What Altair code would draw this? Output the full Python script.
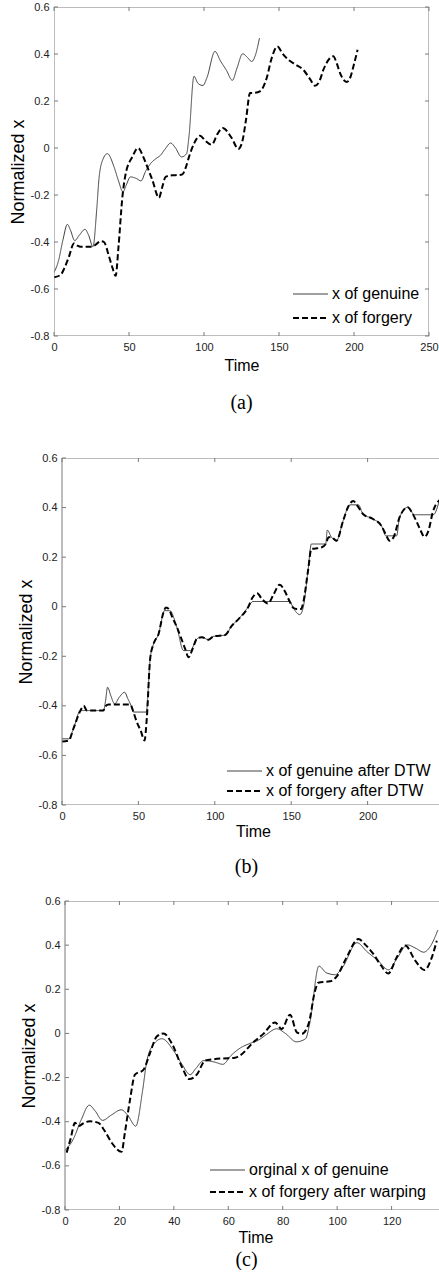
import altair as alt
import pandas as pd

FONT = "Liberation Sans"
SERIF = "Liberation Serif"

# ---------------- data ----------------
# (a) original x of genuine signature
gen_t = [0, 3, 6, 8.9, 11, 13.8, 17, 20.7, 23, 26, 28.5, 30, 32.5, 35.6, 40, 43, 46, 48, 51, 55, 58,
         61, 64.4, 68, 71, 74, 77.8, 81, 85, 88.4, 90, 93.3, 96, 99.3, 102, 107.3, 111, 115, 118.9,
         122, 125.8, 129, 131.8, 134, 137]
gen_v = [-0.53, -0.48, -0.39, -0.325, -0.35, -0.394, -0.37, -0.346, -0.37, -0.42, -0.26, -0.13, -0.05,
         -0.024, -0.08, -0.14, -0.187, -0.16, -0.123, -0.13, -0.14, -0.10, -0.066, -0.045, -0.031,
         -0.005, 0.021, 0.0, -0.038, -0.024, 0.05, 0.305, 0.275, 0.266, 0.30, 0.411, 0.37, 0.33, 0.288,
         0.34, 0.401, 0.385, 0.368, 0.39, 0.468]

# (a) original x of forgery
forg_t = [0, 4.4, 7, 10, 13.3, 15.5, 17.8, 21, 25.6, 28, 31.1, 33.3, 36.7, 39, 41.1, 43, 45.6, 47.8,
          52.2, 56, 60, 62.8, 65.6, 70, 72, 74.4, 78.9, 83, 85.6, 88, 90, 93.3, 97.3, 101, 105.1, 109,
          112.4, 118.4, 122.9, 125.8, 128, 130.7, 134, 137.3, 141.8, 145, 149, 152, 156.2, 161, 166.2,
          170.7, 174, 177, 179.6, 183, 186.2, 188.5, 190.7, 195.1, 197.5, 199.6, 202.4]
forg_v = [-0.55, -0.54, -0.51, -0.462, -0.406, -0.415, -0.42, -0.42, -0.42, -0.41, -0.396, -0.40, -0.462,
          -0.51, -0.544, -0.42, -0.208, -0.109, -0.038, 0.0, -0.045, -0.09, -0.137, -0.212, -0.17,
          -0.123, -0.116, -0.115, -0.112, -0.08, -0.038, 0.018, 0.052, 0.03, 0.014, 0.06, 0.085, 0.043,
          -0.004, 0.035, 0.12, 0.234, 0.235, 0.241, 0.298, 0.38, 0.432, 0.405, 0.376, 0.355, 0.333,
          0.293, 0.265, 0.285, 0.333, 0.375, 0.39, 0.36, 0.319, 0.281, 0.30, 0.347, 0.418]

# (b) genuine after DTW
dtw_gen_t = [0, 4.4, 7.6, 12, 27.2, 28.5, 29.8, 32, 34.4, 37.5, 41, 43, 45.3, 46.8, 55.1, 57.7, 59.9,
             63.2, 66.4, 66.8, 70.5, 75.2, 79.5, 84, 88.2, 91.5, 95.9, 99.1, 106.8, 111.1, 115.5, 121.8,
             125, 149, 151, 153, 155.6, 157.9, 161, 163.2, 172.6, 173.6, 176.4, 179.6, 184, 187.3, 188.5,
             194, 197, 203.5, 209, 212, 219, 220.9, 226.3, 230.7, 243, 247]
dtw_gen_v = [-0.533, -0.533, -0.49, -0.419, -0.419, -0.38, -0.325, -0.36, -0.392, -0.365, -0.345, -0.37,
             -0.40, -0.425, -0.425, -0.21, -0.15, -0.11, -0.023, -0.016, -0.016, -0.083, -0.177, -0.177,
             -0.13, -0.123, -0.133, -0.12, -0.114, -0.077, -0.05, -0.002, 0.021, 0.021, 0.0, -0.02,
             -0.032, -0.002, 0.145, 0.253, 0.253, 0.309, 0.28, 0.266, 0.347, 0.403, 0.411, 0.411, 0.374,
             0.354, 0.327, 0.286, 0.286, 0.36, 0.401, 0.371, 0.371, 0.43]

# (b) forgery after DTW
dtw_forg_t = [0, 4.4, 7.6, 12, 14.2, 16.3, 27.2, 28, 30.5, 44.7, 47, 49, 51.5, 54, 55.5, 57.7, 59.9,
              63.2, 66.4, 68, 70, 72, 75.2, 80.6, 82.8, 85.5, 88.2, 91.5, 95.9, 99.1, 106.8, 111.1,
              115.5, 121.8, 124.5, 127.7, 131, 134.8, 138.5, 142.5, 146, 149, 151.5, 153.4, 156.5, 158,
              161, 163.2, 166, 170, 172.6, 174.5, 176.4, 179.6, 184, 187.3, 190.6, 193, 197, 203.5, 209,
              212, 214.4, 217, 220.9, 226.3, 229, 231.8, 234.5, 237.2, 240, 242.6, 247]
dtw_forg_v = [-0.544, -0.54, -0.49, -0.42, -0.40, -0.419, -0.419, -0.405, -0.395, -0.395, -0.43, -0.466,
              -0.50, -0.54, -0.45, -0.21, -0.15, -0.11, -0.023, -0.003, -0.01, -0.04, -0.083, -0.17,
              -0.204, -0.17, -0.13, -0.123, -0.133, -0.12, -0.114, -0.077, -0.05, -0.002, 0.035, 0.054,
              0.03, 0.013, 0.05, 0.089, 0.06, 0.021, -0.005, -0.009, -0.009, 0.02, 0.145, 0.233, 0.235,
              0.24, 0.253, 0.28, 0.28, 0.266, 0.347, 0.403, 0.427, 0.41, 0.374, 0.354, 0.327, 0.29,
              0.266, 0.28, 0.36, 0.401, 0.38, 0.347, 0.31, 0.282, 0.31, 0.38, 0.43]

# (c) forgery after warping onto the genuine time axis
warp_t = [0.6, 2, 3.7, 4.9, 7, 9.2, 12.3, 14.5, 17.2, 20.8, 22, 23.9, 25.7, 28.8, 31.2, 33.7, 36.2,
          39.2, 42.9, 45.6, 48.4, 51.5, 54.5, 60, 62.5, 64.3, 69.2, 72.9, 77.2, 79.6, 82.7, 85.2, 87,
          89.5, 91.9, 93.1, 97.4, 99.8, 103.5, 107.8, 110.5, 113.3, 116, 118.8, 121.9, 125, 128.7,
          132.1, 134.8, 136.6]
warp_v = [-0.54, -0.48, -0.405, -0.42, -0.405, -0.398, -0.405, -0.44, -0.496, -0.536, -0.45, -0.30,
          -0.187, -0.165, -0.09, -0.014, 0.0, -0.044, -0.15, -0.207, -0.187, -0.123, -0.117, -0.112,
          -0.11, -0.10, -0.04, -0.002, 0.05, 0.02, 0.085, 0.005, -0.002, 0.043, 0.194, 0.23, 0.236,
          0.257, 0.345, 0.428, 0.40, 0.36, 0.31, 0.272, 0.345, 0.398, 0.33, 0.287, 0.345, 0.42]

labels_a = ["x of genuine", "x of forgery"]
labels_b = ["x of genuine after DTW", "x of forgery after DTW"]
labels_c = ["orginal x of genuine", "x of forgery after warping"]

x_ticks_a = [0, 50, 100, 150, 200, 250]
x_ticks_b = [0, 50, 100, 150, 200]
x_ticks_c = [0, 20, 40, 60, 80, 100, 120]
y_ticks = [-0.8, -0.6, -0.4, -0.2, 0, 0.2, 0.4, 0.6]

FRAME = "#7a7a7a"
YLABEL = "datum.value == 0 ? '0' : (datum.value < 0 ? '-' : '') + format(abs(datum.value), '.1f')"


def panel(gt, gv, ft, fv, labels, xmax, xticks, off, W, VW, H, caption, x_title_pad,
          cap_offset, leg_x, leg_y, row_h, cap_extra=None):
    df = pd.DataFrame({
        "t": list(gt) + list(ft),
        "v": list(gv) + list(fv),
        "series": [labels[0]] * len(gt) + [labels[1]] * len(ft),
    })
    xs = alt.Scale(domain=[0, xmax], range=[off, off + W], nice=False, zero=False)
    ys = alt.Scale(domain=[-0.8, 0.6], nice=False, zero=False)
    xax = alt.Axis(
        values=xticks, title="Time", grid=False, ticks=False, domain=False,
        labelFont=FONT, labelFontSize=11, labelColor="#222", labelPadding=5,
        labelFlush=False, titleFont=FONT, titleFontSize=16, titleFontWeight="normal",
        titleColor="#000", titlePadding=x_title_pad)
    yax = alt.Axis(
        values=y_ticks, title="Normalized x", grid=False, ticks=False, domain=False,
        offset=-off, labelExpr=YLABEL, labelFont=FONT, labelFontSize=11,
        labelColor="#222", labelPadding=5, labelFlush=False, titleFont=FONT,
        titleFontSize=18, titleFontWeight="normal", titleColor="#000", titlePadding=3)
    leg = alt.Legend(title=None, orient="none", legendX=leg_x, legendY=leg_y,
                     symbolType="stroke", symbolSize=1225, labelFontSize=16, labelFont=FONT,
                     labelColor="#000", labelOffset=3, rowPadding=0, clipHeight=row_h,
                     padding=0, labelLimit=400)
    lines = alt.Chart(df).mark_line(interpolate="monotone", clip=True).encode(
        x=alt.X("t:Q", scale=xs, axis=xax, title="Time"),
        y=alt.Y("v:Q", scale=ys, axis=yax, title="Normalized x"),
        color=alt.Color("series:N", scale=alt.Scale(domain=labels, range=["#404040", "#000000"]),
                        legend=leg),
        strokeDash=alt.StrokeDash("series:N", scale=alt.Scale(domain=labels, range=[[1, 0], [6, 3]]),
                                  legend=leg),
        strokeWidth=alt.StrokeWidth("series:N", scale=alt.Scale(domain=labels, range=[1, 2]),
                                    legend=leg),
    )
    frame = alt.Chart(pd.DataFrame({"k": [0]})).mark_rect(
        fillOpacity=0, stroke=FRAME, strokeWidth=1, clip=True).encode(
        x=alt.XDatum(0, title="Time"), x2=alt.datum(xmax),
        y=alt.YDatum(-0.8, title="Normalized x"), y2=alt.datum(0.6))
    xt = pd.DataFrame({"t": xticks})
    yt = pd.DataFrame({"v": y_ticks})
    layers = [lines, frame]
    layers.append(alt.Chart(xt).mark_rule(color=FRAME).encode(
        x=alt.X("t:Q", title="Time"), y=alt.value(H), y2=alt.value(H - 4)))
    layers.append(alt.Chart(xt).mark_rule(color=FRAME).encode(
        x=alt.X("t:Q", title="Time"), y=alt.value(0), y2=alt.value(4)))
    layers.append(alt.Chart(yt).mark_rule(color=FRAME).encode(
        y=alt.Y("v:Q", title="Normalized x"), x=alt.value(off), x2=alt.value(off + 4)))
    if off + W <= VW:
        layers.append(alt.Chart(yt).mark_rule(color=FRAME).encode(
            y=alt.Y("v:Q", title="Normalized x"), x=alt.value(off + W), x2=alt.value(off + W - 4)))
    tp = dict(text=caption, orient="bottom", font=SERIF, fontSize=20, fontWeight="normal",
              color="#000", offset=cap_offset, anchor="middle")
    if cap_extra is not None:
        tp.update(subtitle=" ", subtitleFontSize=cap_extra, subtitlePadding=0)
    return alt.layer(*layers).properties(width=VW, height=H, title=alt.TitleParams(**tp))


pa = panel(gen_t, gen_v, forg_t, forg_v, labels_a, 250, x_ticks_a, 0, 375, 375, 329, "(a)",
           5, 20, 238, 275, 24, cap_extra=21)
pb = panel(dtw_gen_t, dtw_gen_v, dtw_forg_t, dtw_forg_v, labels_b, 250, x_ticks_b, 8, 382, 385, 347,
           "(b)", 2, 18, 172, 303, 20)
pc = panel(gen_t, gen_v, warp_t, warp_v, labels_c, 140, x_ticks_c, 11, 381, 385, 309, "(c)",
           3, 5, 155, 258, 22)

chart = alt.vconcat(pa, pb, pc, spacing=18).resolve_scale(
    color="independent", strokeDash="independent", strokeWidth="independent",
    x="independent", y="independent").resolve_legend(
    color="independent", strokeDash="independent", strokeWidth="independent").configure_view(
    stroke=None).properties(
    padding={"left": 9, "top": 1, "right": 0, "bottom": 0}, background="white")

chart.save("out.html", embed_options={"renderer": "svg", "actions": False})
